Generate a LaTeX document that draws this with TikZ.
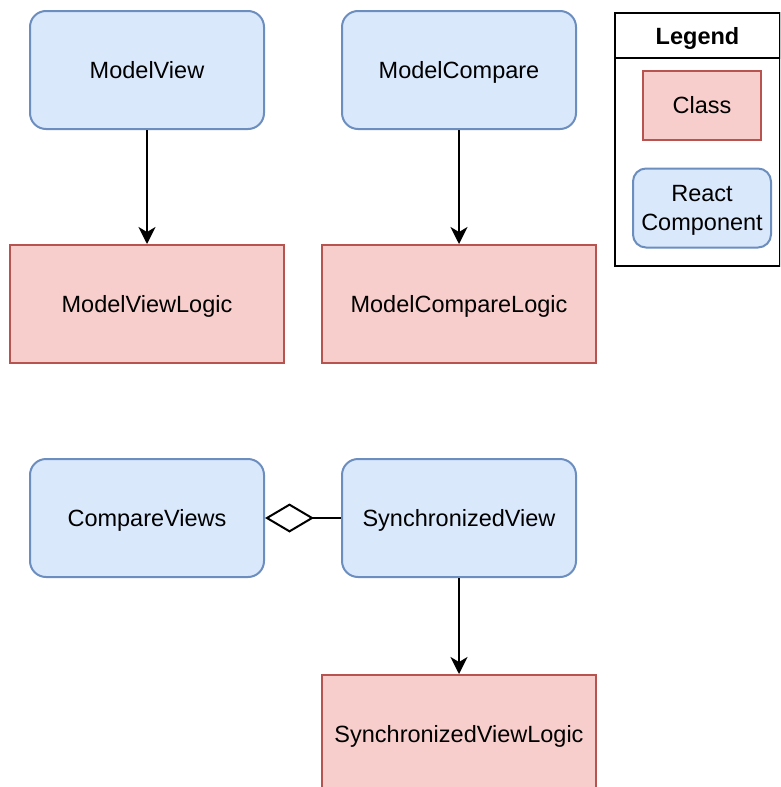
\documentclass[tikz,border=0pt]{standalone}
\usepackage{fontspec}
\setmainfont{Liberation Sans}
\usetikzlibrary{arrows.meta}
\definecolor{compfill}{HTML}{DAE8FC}
\definecolor{compline}{HTML}{6C8EBF}
\definecolor{classfill}{HTML}{F8CECC}
\definecolor{classline}{HTML}{B85450}
\tikzset{
  x=1pt, y=-1pt,
  every node/.style={font=\fontsize{23.5}{29}\selectfont, inner sep=0pt, align=center,
    text depth=0pt},
  component/.style={draw=compline, fill=compfill, line width=2pt, rounded corners=16pt,
    minimum width=234pt, minimum height=118pt},
  classbox/.style={draw=classline, fill=classfill, line width=2pt,
    minimum width=274pt, minimum height=118pt},
  uses/.style={line width=2pt, -{Stealth[length=17pt,width=17pt,inset=5pt]}},
  aggregation/.style={line width=2pt, {Diamond[open,length=49pt,width=29pt]}-},
}
\begin{document}
\begin{tikzpicture}
\useasboundingbox (0,0) rectangle (780,787);
\clip (0,0) rectangle (780,787);

% React components
\node[component] (mv) at (147,70) {ModelView};
\node[component] (mc) at (459,70) {ModelCompare};
\node[component] (cv) at (147,518) {CompareViews};
\node[component] (sv) at (459,518) {SynchronizedView};

% Classes
\node[classbox] (mvl) at (147,304) {ModelViewLogic};
\node[classbox] (mcl) at (459,304) {ModelCompareLogic};
\node[classbox] (svl) at (459,734) {SynchronizedViewLogic};

% Connectors
\draw[uses] (mv) -- (mvl);
\draw[uses] (mc) -- (mcl);
\draw[uses] (sv) -- (svl);
\draw[aggregation] (cv.east) -- (sv.west);

% Legend
\node[draw=black, line width=2pt, minimum width=165pt, minimum height=253pt, anchor=north west]
  (legend) at (614,12) {};
\node[draw=black, line width=2pt, minimum width=165pt, minimum height=45pt, anchor=north west,
  font=\fontsize{23.5}{29}\selectfont\bfseries] (legendhead) at (614,12) {Legend};
\node[classbox, minimum width=118pt, minimum height=69pt] (lclass) at (702,105) {Class};
\node[component, minimum width=138pt, minimum height=79pt, rounded corners=13pt]
  (lcomp) at (702,208) {React\\Component};
\end{tikzpicture}
\end{document}
